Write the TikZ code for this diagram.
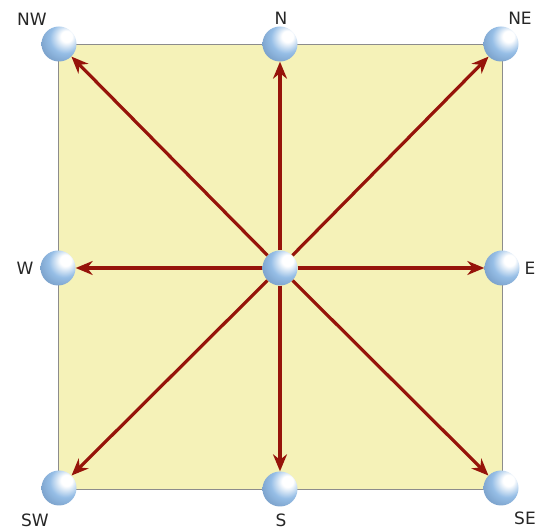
\documentclass[tikz,border=0pt]{standalone}
\usepackage{fontspec}
\setmainfont{DejaVu Sans}
\usetikzlibrary{arrows.meta}
\definecolor{ballc}{RGB}{150,190,230}
\definecolor{balldark}{RGB}{55,90,135}
\definecolor{arrc}{RGB}{150,20,10}
\definecolor{sqfill}{RGB}{245,242,184}
\pgfdeclareradialshading{myball}{\pgfpoint{12bp}{12bp}}{color(0bp)=(white); color(8bp)=(white); color(22bp)=(ballc); color(40bp)=(ballc!60!balldark); color(56bp)=(balldark); color(80bp)=(balldark)}
\begin{document}
\begin{tikzpicture}[x=1pt,y=-1pt,
  ballnode/.style={circle,minimum size=35pt,inner sep=0pt,shading=myball},
  lbl/.style={font=\fontsize{17}{17}\selectfont,text=black!85},
  arr/.style={draw=arrc,line width=3.2pt,-{Stealth[length=17pt,width=14pt]},shorten >=0pt}]
\useasboundingbox (0,0) rectangle (539,529);
\draw[black!45,line width=1pt,fill=sqfill] (58,45) rectangle (502,490);
\node[ballnode] (C) at (280,268) {};
\node[ballnode] (NW) at (59,44) {};
\node[ballnode] (N) at (280,44) {};
\node[ballnode] (NE) at (501,44) {};
\node[ballnode] (W) at (58,268) {};
\node[ballnode] (E) at (502,268) {};
\node[ballnode] (SW) at (59,488) {};
\node[ballnode] (S) at (280,489) {};
\node[ballnode] (SE) at (501,488) {};
\foreach \t in {NW,N,NE,W,E,SW,S,SE} \draw[arr] (C) -- (\t);
\node[lbl] (lNW) at (32,19) {NW};
\node[lbl] (lN) at (281,18) {N};
\node[lbl] (lNE) at (520,18) {NE};
\node[lbl] (lW) at (25,268) {W};
\node[lbl] (lE) at (530,268) {E};
\node[lbl] (lSW) at (35,520) {SW};
\node[lbl] (lS) at (281,520) {S};
\node[lbl] (lSE) at (525,518) {SE};
\end{tikzpicture}
\end{document}
